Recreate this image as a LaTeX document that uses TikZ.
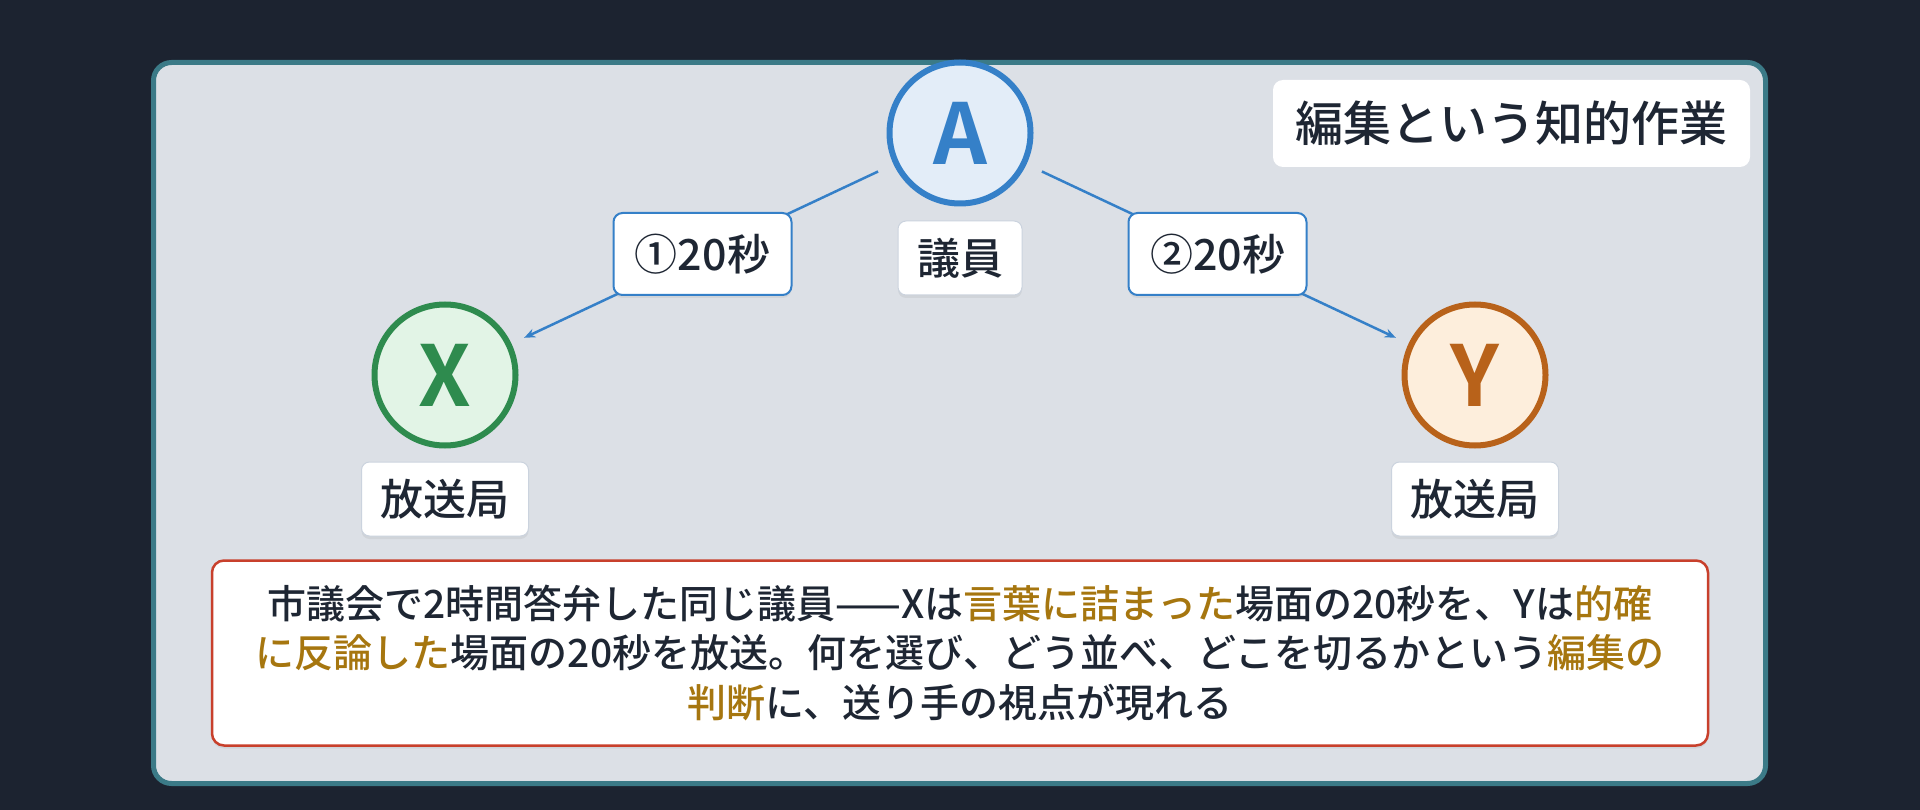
\documentclass[tikz,border=0pt]{standalone}
\usepackage{fontspec}
\setmainfont{Noto Sans CJK JP}[UprightFont=* Medium, BoldFont=* Bold]
\usetikzlibrary{positioning,arrows.meta,shadows}

\definecolor{bgdark}{HTML}{1C2330}
\definecolor{panelgray}{HTML}{DCE0E6}
\definecolor{panelline}{HTML}{3B7A87}
\definecolor{textdark}{HTML}{1E2633}
\definecolor{edgeblue}{HTML}{3580C8}
\definecolor{afill}{HTML}{E3EDF8}
\definecolor{xline}{HTML}{2E8B4E}
\definecolor{xfill}{HTML}{E2F4E6}
\definecolor{yline}{HTML}{B8621A}
\definecolor{yfill}{HTML}{FDEEDC}
\definecolor{notered}{HTML}{C8402C}
\definecolor{accentgold}{HTML}{A6760F}
\definecolor{tagline}{HTML}{CBD3DE}

\newcommand{\gold}[1]{\textcolor{accentgold}{#1}}

\tikzset{
  person/.style={circle, line width=6pt, minimum size=141pt, inner sep=0pt,
    font=\fontsize{84}{84}\selectfont\bfseries},
  tagbox/.style={fill=white, draw=tagline, line width=1pt, rounded corners=8pt,
    inner xsep=19pt, minimum height=74pt,
    drop shadow={opacity=0.12, shadow xshift=0pt, shadow yshift=-3pt}},
  timebox/.style={fill=white, draw=edgeblue, line width=2pt, rounded corners=9pt,
    minimum width=178pt, minimum height=82pt,
    drop shadow={opacity=0.12, shadow xshift=0pt, shadow yshift=-3pt}},
  feed/.style={draw=edgeblue, line width=2.5pt, -{Stealth[length=11pt,width=9pt]},
    shorten <=17pt, shorten >=14pt}
}

\begin{document}
\begin{tikzpicture}[x=1pt, y=-1pt, node distance=13pt,
    every node/.style={font=\fontsize{43}{50}\selectfont, text=textdark}]
  \useasboundingbox (0,0) rectangle (1920,810);
  \fill[bgdark] (0,0) rectangle (1920,810);
  % panel
  \draw[panelline, fill=panelgray, line width=5pt, rounded corners=18pt]
    (153.5,62.5) rectangle (1765.5,783.5);

  \node (title) at (1511.5,123.5) [fill=white, rounded corners=10pt,
    minimum width=477pt, minimum height=87pt, font=\fontsize{48}{48}\selectfont] {編集という知的作業};

  % speaker and stations
  \node (A) at (960,133) [person, draw=edgeblue, fill=afill, text=edgeblue] {A};
  \node (a) [tagbox, below=14pt of A] {議員};
  \node (X) at (445,375) [person, draw=xline, fill=xfill, text=xline] {X};
  \node (x) [tagbox, below=of X] {放送局};
  \node (Y) at (1475,375) [person, draw=yline, fill=yfill, text=yline] {Y};
  \node (y) [tagbox, below=of Y] {放送局};

  \draw[feed] (A) -- node[timebox] (t1) {①20秒} (X);
  \draw[feed] (A) -- node[timebox] (t2) {②20秒} (Y);

  % note
  \node (note) at (960,653) [fill=white, draw=notered, line width=2.5pt, rounded corners=12pt,
    minimum width=1496pt, minimum height=185pt, align=center,
    font=\fontsize{39}{49.5}\selectfont,
    drop shadow={opacity=0.12, shadow xshift=0pt, shadow yshift=-3pt}]
    {市議会で2時間答弁した同じ議員——Xは\gold{言葉に詰まった}場面の20秒を、Yは\gold{的確}\\
     \gold{に反論した}場面の20秒を放送。何を選び、どう並べ、どこを切るかという\gold{編集の}\\
     \gold{判断}に、送り手の視点が現れる};
\end{tikzpicture}
\end{document}
